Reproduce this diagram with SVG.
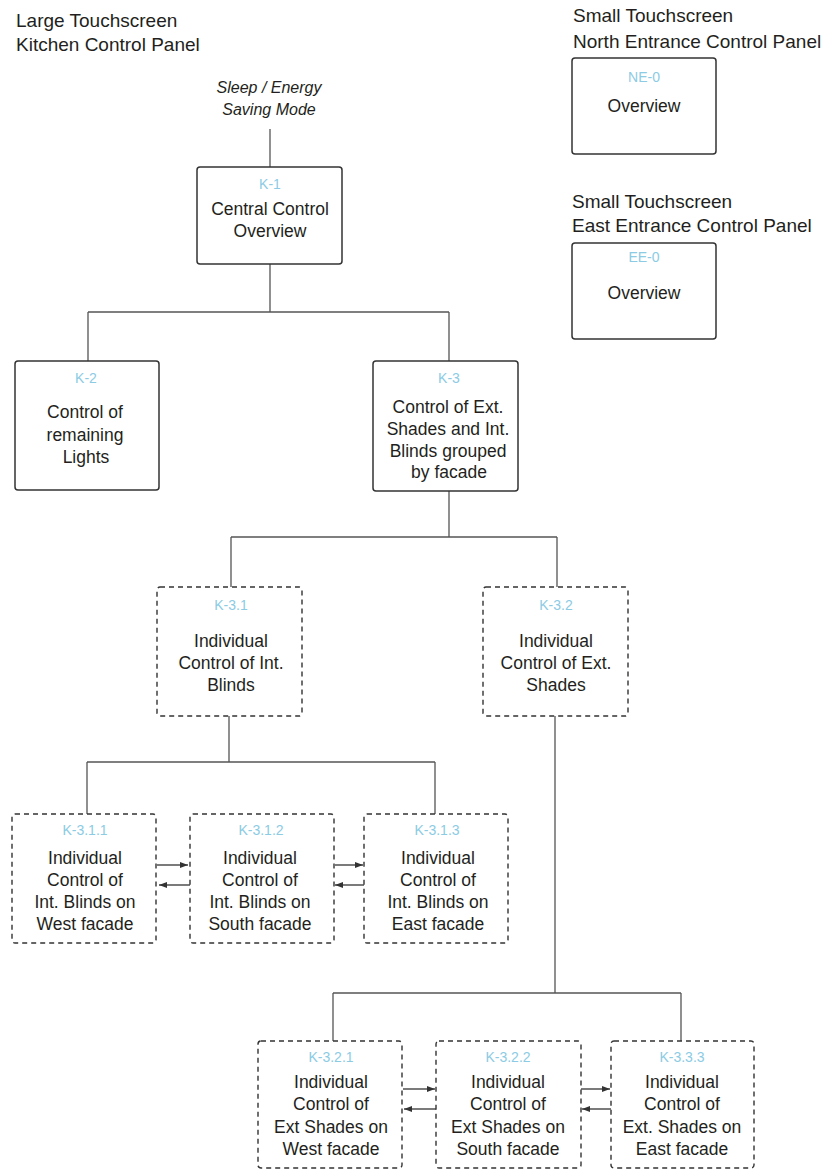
<svg xmlns="http://www.w3.org/2000/svg" width="833" height="1171" viewBox="0 0 833 1171">
<style>
text{font-family:"Liberation Sans",Arial,sans-serif;fill:#231f20;text-anchor:middle}
.title{font-size:19px;text-anchor:start}
.body{font-size:17.5px}
.lbl{font-size:14px;fill:#8ccbe4}
.ital{font-size:16px;font-style:italic}
.box{fill:#fff;stroke:#333;stroke-width:1.5}
.dbox{fill:#fff;stroke:#333;stroke-width:1.4;stroke-dasharray:5 4}
.con{fill:none;stroke:#555;stroke-width:1.3}
.arr{fill:none;stroke:#333;stroke-width:1.3;marker-end:url(#ah)}
</style>
<defs>
<marker id="ah" viewBox="0 0 8 6" refX="8" refY="3" markerWidth="8" markerHeight="6" markerUnits="userSpaceOnUse" orient="auto">
<path d="M0,0 L8,3 L0,6 Z" fill="#333"/>
</marker>
</defs>
<rect width="833" height="1171" fill="#fff"/>

<g id="titles">
<text class="title" x="16" y="27">Large Touchscreen</text>
<text class="title" x="16" y="51">Kitchen Control Panel</text>
<text class="title" x="573" y="22">Small Touchscreen</text>
<text class="title" x="573" y="48">North Entrance Control Panel</text>
<text class="title" x="572" y="208">Small Touchscreen</text>
<text class="title" x="572" y="232">East Entrance Control Panel</text>
</g>

<g id="sleep">
<text class="ital" x="269" y="93">Sleep / Energy</text>
<text class="ital" x="269" y="115">Saving Mode</text>
</g>

<g id="connectors">
<path class="con" d="M270 129V167"/>
<path class="con" d="M270 264V312M88 312H449M88 312V361M449 312V361"/>
<path class="con" d="M449 491V537M231 537H557M231 537V587M557 537V587"/>
<path class="con" d="M229 716V762M87 762H435M87 762V814M435 762V814"/>
<path class="con" d="M555 716V993M333 993H681M333 993V1041M681 993V1041"/>
<path class="arr" d="M157 865H188"/>
<path class="arr" d="M190 885H159"/>
<path class="arr" d="M335 865H363"/>
<path class="arr" d="M364 885H335"/>
<path class="arr" d="M403 1089H435"/>
<path class="arr" d="M436 1109H404"/>
<path class="arr" d="M581 1089H610"/>
<path class="arr" d="M611 1109H582"/>
</g>

<g id="NE-0">
<rect class="box" x="572" y="58" width="144" height="96" rx="3"/>
<text class="lbl" x="644" y="82">NE-0</text>
<text class="body" x="644" y="112">Overview</text>
</g>
<g id="EE-0">
<rect class="box" x="572" y="243" width="144" height="96" rx="3"/>
<text class="lbl" x="644" y="262">EE-0</text>
<text class="body" x="644" y="299">Overview</text>
</g>

<g id="K-1">
<rect class="box" x="197" y="167" width="145" height="97" rx="3"/>
<text class="lbl" x="270" y="189">K-1</text>
<text class="body" x="270" y="215">Central Control</text>
<text class="body" x="270" y="237">Overview</text>
</g>
<g id="K-2">
<rect class="box" x="15" y="361" width="144" height="129" rx="3"/>
<text class="lbl" x="86" y="383">K-2</text>
<text class="body" x="85" y="418">Control of</text>
<text class="body" x="85" y="441">remaining</text>
<text class="body" x="86" y="463">Lights</text>
</g>
<g id="K-3">
<rect class="box" x="373" y="361" width="145" height="130" rx="3"/>
<text class="lbl" x="449" y="383">K-3</text>
<text class="body" x="448" y="413">Control of Ext.</text>
<text class="body" x="448" y="435">Shades and Int.</text>
<text class="body" x="448" y="457">Blinds grouped</text>
<text class="body" x="449" y="478">by facade</text>
</g>

<g id="K-3.1">
<rect class="dbox" x="157" y="587" width="145" height="129" rx="3"/>
<text class="lbl" x="231" y="610">K-3.1</text>
<text class="body" x="231" y="647">Individual</text>
<text class="body" x="231" y="669">Control of Int.</text>
<text class="body" x="231" y="691">Blinds</text>
</g>
<g id="K-3.2">
<rect class="dbox" x="483" y="587" width="145" height="129" rx="3"/>
<text class="lbl" x="556" y="610">K-3.2</text>
<text class="body" x="556" y="647">Individual</text>
<text class="body" x="556" y="669">Control of Ext.</text>
<text class="body" x="556" y="691">Shades</text>
</g>

<g id="K-3.1.1">
<rect class="dbox" x="12" y="814" width="144" height="129" rx="3"/>
<text class="lbl" x="85" y="835">K-3.1.1</text>
<text class="body" x="85" y="864">Individual</text>
<text class="body" x="85" y="886">Control of</text>
<text class="body" x="85" y="908">Int. Blinds on</text>
<text class="body" x="85" y="930">West facade</text>
</g>
<g id="K-3.1.2">
<rect class="dbox" x="190" y="814" width="144" height="129" rx="3"/>
<text class="lbl" x="261" y="835">K-3.1.2</text>
<text class="body" x="260" y="864">Individual</text>
<text class="body" x="260" y="886">Control of</text>
<text class="body" x="260" y="908">Int. Blinds on</text>
<text class="body" x="260" y="930">South facade</text>
</g>
<g id="K-3.1.3">
<rect class="dbox" x="364" y="814" width="144" height="129" rx="3"/>
<text class="lbl" x="437" y="835">K-3.1.3</text>
<text class="body" x="438" y="864">Individual</text>
<text class="body" x="438" y="886">Control of</text>
<text class="body" x="438" y="908">Int. Blinds on</text>
<text class="body" x="438" y="930">East facade</text>
</g>

<g id="K-3.2.1">
<rect class="dbox" x="258" y="1041" width="144" height="127" rx="3"/>
<text class="lbl" x="331" y="1062">K-3.2.1</text>
<text class="body" x="331" y="1088">Individual</text>
<text class="body" x="331" y="1110">Control of</text>
<text class="body" x="331" y="1133">Ext Shades on</text>
<text class="body" x="331" y="1155">West facade</text>
</g>
<g id="K-3.2.2">
<rect class="dbox" x="436" y="1041" width="145" height="127" rx="3"/>
<text class="lbl" x="508" y="1062">K-3.2.2</text>
<text class="body" x="508" y="1088">Individual</text>
<text class="body" x="508" y="1110">Control of</text>
<text class="body" x="508" y="1133">Ext Shades on</text>
<text class="body" x="508" y="1155">South facade</text>
</g>
<g id="K-3.3.3">
<rect class="dbox" x="611" y="1041" width="143" height="127" rx="3"/>
<text class="lbl" x="682" y="1062">K-3.3.3</text>
<text class="body" x="682" y="1088">Individual</text>
<text class="body" x="682" y="1110">Control of</text>
<text class="body" x="682" y="1133">Ext. Shades on</text>
<text class="body" x="682" y="1155">East facade</text>
</g>
</svg>
